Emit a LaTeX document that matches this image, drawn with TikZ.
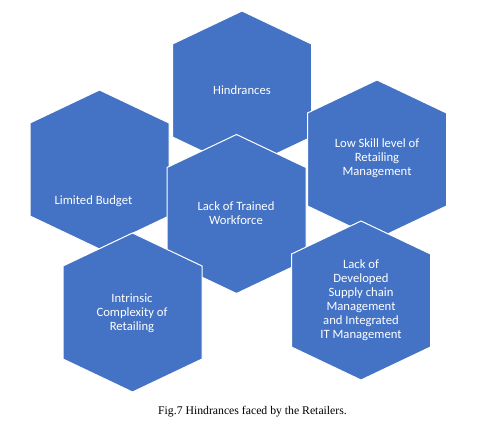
\documentclass[tikz,border=0pt]{standalone}
\usepackage{fontspec}
\setmainfont{Carlito}
\newfontfamily\capfont{Liberation Serif}
\usepackage{tikz}
\usetikzlibrary{positioning}
\definecolor{cellblue}{HTML}{4472C4}
% flattened hexagon cell round a given centre
\newcommand{\hexcell}[1]{\filldraw[cell,shift={(#1)}] (0,-79.5) -- (69.5,-46.5) -- (69.5,46.5) -- (0,79.5) -- (-69.5,46.5) -- (-69.5,-46.5) -- cycle;}

\begin{document}
\begin{tikzpicture}[x=0.75pt,y=-0.75pt,
  cell/.style={fill=cellblue,draw=white,line width=0.75pt,line join=miter},
  celltext/.style={text=white,align=center,font=\fontsize{9.5}{10.5}\selectfont,inner sep=0pt}]
\useasboundingbox (0,0) rectangle (493,425);
% cells, back to front
\hexcell{242,90.5}
\node[celltext] (hind) at (242,90.5) {Hindrances};
\hexcell{377,159.5}
\node[celltext] (skill) at (377,158) {Low Skill level of\\Retailing\\Management};
\hexcell{99.5,169.5}
\node[celltext] (budget) at (93.5,201.5) {Limited Budget};
\hexcell{236.5,214}
\node[celltext] (trained) at (236,213.5) {Lack of Trained\\Workforce};
\hexcell{132.5,312.5}
\node[celltext] (intrinsic) at (132,313) {Intrinsic\\Complexity of\\Retailing};
\hexcell{361,300.5}
\node[celltext] (supply) at (361,300.5) {Lack of\\Developed\\Supply chain\\Management\\and Integrated\\IT Management};
% caption
\node[font=\capfont\fontsize{8.8}{10}\selectfont] (caption) at (252.5,412) {Fig.7 Hindrances faced by the Retailers.};
\end{tikzpicture}
\end{document}
